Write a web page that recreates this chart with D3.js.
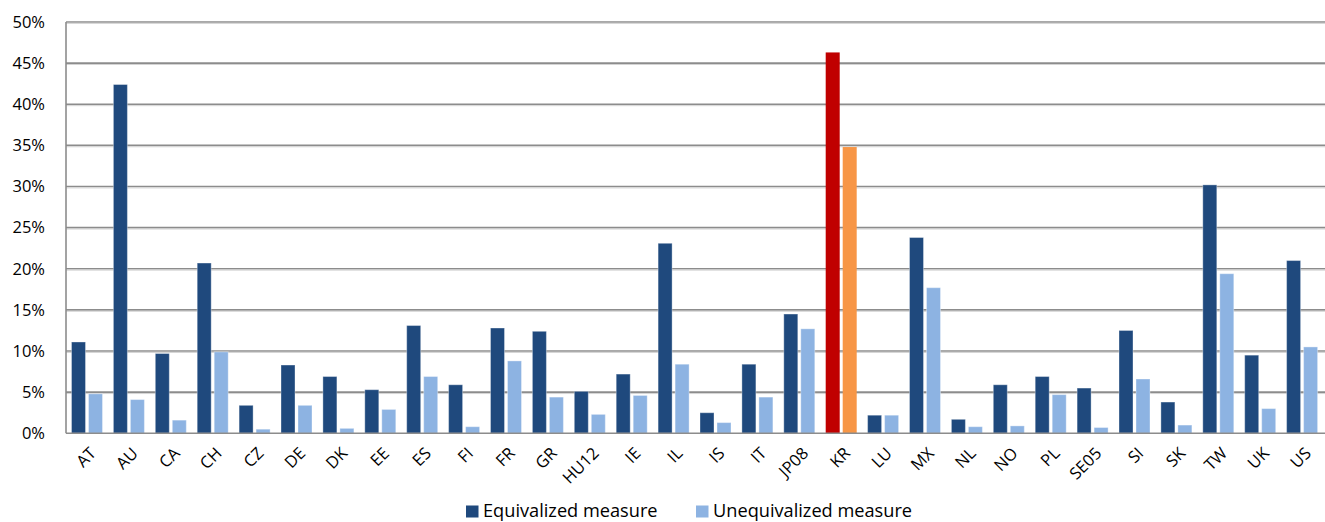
<!DOCTYPE html>
<html>
<head>
<meta charset="utf-8">
<script src="https://cdn.jsdelivr.net/npm/d3@7"></script>
<style>
  html, body { margin: 0; padding: 0; background: #fff; }
  svg { display: block; }
  text { font-family: "Open Sans", sans-serif; fill: #000; }
</style>
</head>
<body>
<svg id="chart" width="1325" height="522"></svg>
<script>
// Country codes along the x axis
const countries = ["AT","AU","CA","CH","CZ","DE","DK","EE","ES","FI","FR","GR","HU12","IE","IL","IS","IT","JP08","KR","LU","MX","NL","NO","PL","SE05","SI","SK","TW","UK","US"];
// Share (%) under each measure
const equivalized   = [11.1,42.4,9.7,20.7,3.4,8.3,6.9,5.3,13.1,5.9,12.8,12.4,5.1,7.2,23.1,2.5,8.4,14.5,46.3,2.2,23.8,1.7,5.9,6.9,5.5,12.5,3.8,30.2,9.5,21.0];
const unequivalized = [4.8,4.1,1.6,9.9,0.5,3.4,0.6,2.9,6.9,0.8,8.8,4.4,2.3,4.6,8.4,1.3,4.4,12.7,34.8,2.2,17.7,0.8,0.9,4.7,0.7,6.6,1.0,19.4,3.0,10.5];
const seriesNames = ["Equivalized measure","Unequivalized measure"];
const yTicks = [0,5,10,15,20,25,30,35,40,45,50];
const highlight = "KR";

const colors = { base: ["#1F497D","#8DB3E2"], highlight: ["#C00000","#F79646"] };
const axisFont = "16.5px";
const legendFont = "18.2px";

const svg = d3.select("#chart");
const plotLeft = 66, plotRight = 1323, plotTop = 22, plotBottom = 433.3;

const x = d3.scaleBand().domain(countries).range([plotLeft, plotRight]).padding(0);
const inner = d3.scaleBand().domain([0,1]).range([5.5, 36.5]).paddingInner(2 - 31/17);
const y = d3.scaleLinear().domain([0,50]).range([plotBottom, plotTop]);

// Gridlines
const grid = svg.append("g");
grid.selectAll("line.g").data(yTicks.filter(t => t > 0)).join("line")
  .attr("x1", plotLeft).attr("x2", 1325)
  .attr("y1", d => y(d)).attr("y2", d => y(d))
  .attr("stroke", "#8c8c8c").attr("stroke-width", 1.6);
grid.selectAll("line.s").data(yTicks.filter(t => t > 0)).join("line")
  .attr("x1", plotLeft).attr("x2", 1325)
  .attr("y1", d => y(d) + 1.4).attr("y2", d => y(d) + 1.4)
  .attr("stroke", "#d4d4d4").attr("stroke-width", 1);

// Bars
const rows = countries.map((c, i) => ({ c, v: [equivalized[i], unequivalized[i]] }));
const g = svg.append("g");
rows.forEach(r => {
  r.v.forEach((v, k) => {
    const pal = r.c === highlight ? colors.highlight : colors.base;
    g.append("rect")
      .attr("x", x(r.c) + inner(k))
      .attr("width", inner.bandwidth())
      .attr("y", y(v))
      .attr("height", y(0) - y(v))
      .attr("fill", pal[k])
      .attr("stroke", r.c === highlight ? "none" : "rgba(255,255,255,0.35)")
      .attr("stroke-width", 1);
  });
});

// Axis lines
svg.append("line").attr("x1", plotLeft).attr("x2", plotLeft).attr("y1", plotTop).attr("y2", plotBottom)
  .attr("stroke", "#8c8c8c").attr("stroke-width", 1.6);
svg.append("line").attr("x1", plotLeft).attr("x2", 1325).attr("y1", plotBottom).attr("y2", plotBottom)
  .attr("stroke", "#8c8c8c").attr("stroke-width", 1.6);

// Y axis labels
const yAxis = d3.axisLeft(y).tickValues(yTicks).tickFormat(d => d + "%").tickSize(0).tickPadding(21);
const ya = svg.append("g").attr("transform", `translate(${plotLeft},0)`).call(yAxis);
ya.select(".domain").remove();
ya.selectAll("text").style("font-size", axisFont).style("font-family", "'Open Sans', sans-serif").attr("fill", "#000");

// X axis labels, rotated
const xa = svg.append("g");
xa.selectAll("text").data(countries).join("text")
  .attr("transform", d => `translate(${x(d) + x.bandwidth()/2 + 6},${plotBottom + 17}) rotate(-45)`)
  .attr("text-anchor", "end")
  .attr("dy", "0.35em")
  .style("font-size", axisFont)
  .text(d => d);

// Legend
const legend = svg.append("g");
const items = [{ name: seriesNames[0], color: colors.base[0], x: 466 }, { name: seriesNames[1], color: colors.base[1], x: 696 }];
items.forEach(it => {
  legend.append("rect").attr("x", it.x).attr("y", 505.5).attr("width", 12.5).attr("height", 12).attr("fill", it.color);
  legend.append("text").attr("x", it.x + 17).attr("y", 517).style("font-size", legendFont).text(it.name);
});
</script>
</body>
</html>
